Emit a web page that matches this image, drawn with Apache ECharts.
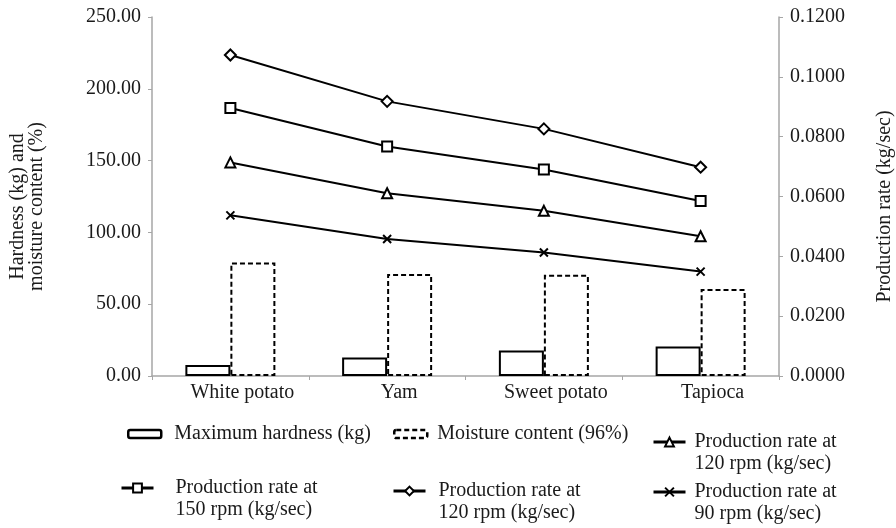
<!DOCTYPE html>
<html>
<head>
<meta charset="utf-8">
<script src="https://cdn.jsdelivr.net/npm/echarts@6/dist/echarts.min.js"></script>
<style>html,body{margin:0;padding:0;background:#fff}#c{width:896px;height:528px}</style>
</head>
<body>
<div id="c"></div>
<script>
const categories = ['White potato', 'Yam', 'Sweet potato', 'Tapioca'];
const hardness = [7.7, 12.8, 17.7, 20.5];
const moisture = [79.1, 71.0, 70.5, 60.5];
const rate120a = [0.1073, 0.0918, 0.0826, 0.0698];
const rate150 = [0.0896, 0.0767, 0.0690, 0.0585];
const rate120 = [0.0714, 0.0611, 0.0552, 0.0467];
const rate90 = [0.0537, 0.0458, 0.0413, 0.0349];
const leftTicks = [0, 50, 100, 150, 200, 250];
const rightTicks = [0, 0.02, 0.04, 0.06, 0.08, 0.10, 0.12];

const names = {
  hard: 'Maximum hardness (kg)',
  moist: 'Moisture content (96%)',
  r120: 'Production rate at\n120 rpm (kg/sec)',
  r150: 'Production rate at\n150 rpm (kg/sec)',
  r120a: 'Production rate at\n120 rpm (kg/sec) ',
  r90: 'Production rate at\n90 rpm (kg/sec)'
};

const FONT = '"Liberation Serif", "Times New Roman", serif';
const TXT = '#1a1a1a';
const AX = '#a6a6a6';
const xPath = 'path://M0,0L10,10M10,0L0,10';

function legendSingle(name, left, top, padLeft, dashed) {
  return {
    data: [name], left: left, top: top, padding: 0, selectedMode: false,
    itemWidth: 33, itemHeight: 8,
    itemStyle: { borderWidth: 2.5, borderColor: '#000', color: '#fff', borderType: dashed ? [5, 3] : 'solid' },
    textStyle: { fontFamily: FONT, fontSize: 20, color: TXT, lineHeight: 22, padding: [0, 0, 0, padLeft] }
  };
}
function legendDouble(name, left, top, padLeft) {
  return {
    data: [name], left: left, top: top, padding: 0, selectedMode: false,
    itemWidth: 32, itemHeight: 11,
    lineStyle: { width: 3 },
    formatter: n => '\n' + n,
    textStyle: { fontFamily: FONT, fontSize: 20, color: TXT, lineHeight: 22, padding: [0, 0, 0, padLeft] }
  };
}

const chart = echarts.init(document.getElementById('c'), null, { renderer: 'canvas' });
chart.setOption({
  animation: false,
  backgroundColor: '#fff',
  textStyle: { fontFamily: FONT },
  grid: { left: 152, right: 117, top: 17, bottom: 152, containLabel: false, outerBoundsMode: 'none' },
  legend: [
    legendSingle(names.hard, 127, 423, 8, false),
    legendSingle(names.moist, 393, 423, 5, true),
    legendDouble(names.r120, 652, 409, 4),
    legendDouble(names.r150, 120, 455, 17),
    legendDouble(names.r120a, 392, 458, 8),
    legendDouble(names.r90, 652, 459, 4)
  ],
  xAxis: {
    type: 'category',
    data: categories,
    axisLine: { lineStyle: { color: AX, width: 1.5 } },
    axisTick: { show: true, length: 4, lineStyle: { color: AX } },
    axisLabel: { fontFamily: FONT, fontSize: 20, color: TXT, margin: 7, padding: [0, 0, 0, 24] }
  },
  yAxis: [
    {
      type: 'value', min: 0, max: 250, interval: 50,
      name: 'Hardness (kg) and\nmoisture content (%)',
      nameLocation: 'middle', nameGap: 106, nameRotate: 90,
      nameTextStyle: { fontFamily: FONT, fontSize: 20, color: TXT, lineHeight: 19, padding: [0, 20, 0, 0] },
      axisLine: { show: true, lineStyle: { color: AX, width: 1.5 } },
      axisTick: { show: true, length: 4, lineStyle: { color: AX } },
      splitLine: { show: false },
      axisLabel: { fontFamily: FONT, fontSize: 20, color: TXT, margin: 11,
        formatter: v => leftTicks.includes(v) ? v.toFixed(2) : '' }
    },
    {
      type: 'value', min: 0, max: 0.12, interval: 0.02,
      name: 'Production rate (kg/sec)',
      nameLocation: 'middle', nameGap: 96, nameRotate: 90,
      nameTextStyle: { fontFamily: FONT, fontSize: 20, color: TXT, padding: [0, 20, 0, 0] },
      axisLine: { show: true, lineStyle: { color: AX, width: 1.5 } },
      axisTick: { show: true, length: 4, lineStyle: { color: AX } },
      splitLine: { show: false },
      axisLabel: { fontFamily: FONT, fontSize: 20, color: TXT, margin: 11,
        formatter: v => { const t = rightTicks.find(r => Math.abs(r - v) < 1e-9); return t !== undefined ? t.toFixed(4) : ''; } }
    }
  ],
  series: [
    {
      name: names.hard, type: 'bar', yAxisIndex: 0, data: hardness,
      barWidth: 45, barGap: '0%',
      itemStyle: { color: '#fff', borderColor: '#000', borderWidth: 2 }
    },
    {
      name: names.moist, type: 'bar', yAxisIndex: 0, data: moisture,
      barWidth: 45, barGap: '0%',
      itemStyle: { color: '#fff', borderColor: '#000', borderWidth: 2, borderType: [5, 3] }
    },
    {
      name: names.r120a, type: 'line', yAxisIndex: 1, data: rate120a,
      symbol: 'emptyDiamond', symbolSize: 11,
      lineStyle: { color: '#000', width: 2 },
      itemStyle: { color: '#000', borderColor: '#000', borderWidth: 1.5 }
    },
    {
      name: names.r150, type: 'line', yAxisIndex: 1, data: rate150,
      symbol: 'emptyRect', symbolSize: 10,
      lineStyle: { color: '#000', width: 2 },
      itemStyle: { color: '#000', borderColor: '#000', borderWidth: 1.5 }
    },
    {
      name: names.r120, type: 'line', yAxisIndex: 1, data: rate120,
      symbol: 'emptyTriangle', symbolSize: 10,
      lineStyle: { color: '#000', width: 2 },
      itemStyle: { color: '#000', borderColor: '#000', borderWidth: 1.5 }
    },
    {
      name: names.r90, type: 'line', yAxisIndex: 1, data: rate90,
      symbol: xPath, symbolSize: 8,
      lineStyle: { color: '#000', width: 2 },
      itemStyle: { color: '#000', borderColor: '#000', borderWidth: 2 }
    }
  ]
});
</script>
</body>
</html>
